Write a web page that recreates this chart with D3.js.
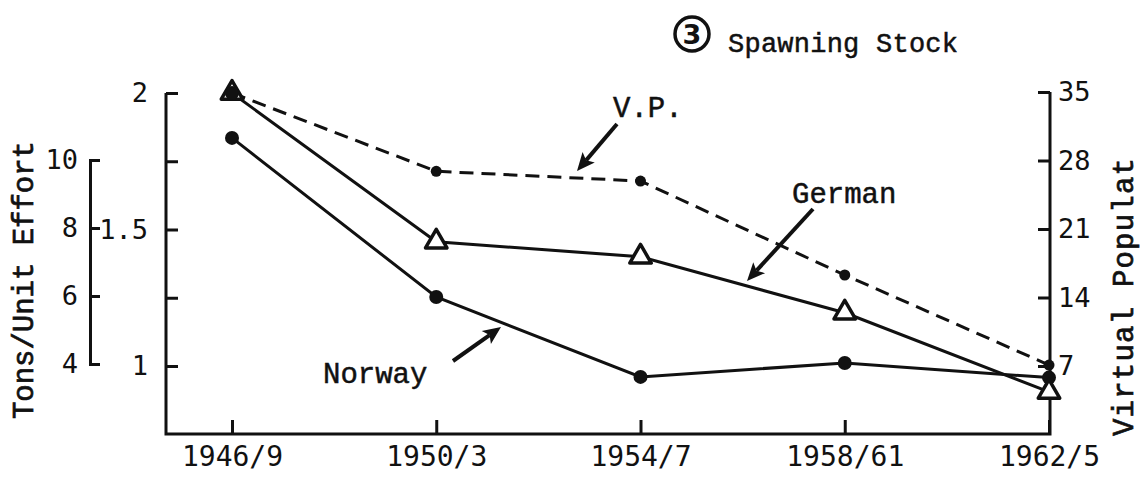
<!DOCTYPE html>
<html>
<head>
<meta charset="utf-8">
<script src="https://cdn.jsdelivr.net/npm/d3@7"></script>
<style>
  body { margin: 0; background: #fff; }
  text { fill: #111; }
</style>
</head>
<body>
<div id="chart"></div>
<script>
// chart data
var periods = ["1946/9", "1950/3", "1954/7", "1958/61", "1962/5"]
var german = [2.0, 1.455, 1.40, 1.195, 0.905]      // left scale (1 - 2)
var norway = [10.65, 5.97, 3.62, 4.03, 3.60]       // left scale (4 - 10)
var vp = [34.9, 26.9, 25.9, 16.3, 7.1]             // right scale, virtual population

var mainTicks = [1, 1.25, 1.5, 1.75, 2]
var mainLabels = ["1", "", "1.5", "", "2"]
var secTicks = [4, 6, 8, 10]
var rightTicks = [7, 14, 21, 28, 35]

var width = 1147,
    height = 479

var serif = "'Liberation Mono', 'Courier New', monospace"
var digits = "'DejaVu Sans Mono', monospace"
var ink = "#111"

var svg = d3.select("#chart")
  .append("svg")
    .attr("width", width)
    .attr("height", height)

var bottomY = 434
var leftX = 166
var rightX = 1050

var x = d3.scalePoint()
  .domain(periods)
  .range([232, 1049])

var yMain = d3.scaleLinear().domain([1, 2]).range([366, 93])
var ySec = d3.scaleLinear().domain([4, 10]).range([364, 160])
var yRight = d3.scaleLinear().domain([7, 35]).range([366, 92])

// frame lines (open box)
svg.append("path")
  .attr("d", "M" + leftX + "," + yMain(2) + "V" + bottomY + "H" + rightX + "V" + yRight(35))
  .attr("fill", "none")
  .attr("stroke", ink)
  .attr("stroke-width", 3)

// main left axis, ticks point inwards
var mainAxis = svg.append("g")
  .attr("transform", "translate(" + leftX + ",0)")
  .call(d3.axisLeft(yMain)
    .tickValues(mainTicks)
    .tickFormat(function(d, i) { return mainLabels[i] })
    .tickSize(-12)
    .tickPadding(18))
mainAxis.select(".domain").remove()

// second left scale
var secAxis = svg.append("g")
  .attr("transform", "translate(90,0)")
  .call(d3.axisLeft(ySec)
    .tickValues(secTicks)
    .tickFormat(d3.format("d"))
    .tickSize(-10)
    .tickPadding(12))

// right axis
var rightAxis = svg.append("g")
  .attr("transform", "translate(" + rightX + ",0)")
  .call(d3.axisRight(yRight)
    .tickValues(rightTicks)
    .tickFormat(d3.format("d"))
    .tickSize(-12)
    .tickPadding(8))
rightAxis.select(".domain").remove()

// bottom axis
var xAxis = svg.append("g")
  .attr("transform", "translate(0," + bottomY + ")")
  .call(d3.axisBottom(x)
    .tickSize(-14)
    .tickPadding(12))
xAxis.select(".domain").remove()

svg.selectAll(".tick line")
  .attr("stroke", ink)
  .attr("stroke-width", 3)
svg.selectAll(".domain")
  .attr("stroke", ink)
  .attr("stroke-width", 3)
svg.selectAll(".tick text")
  .style("font-family", digits)
  .style("font-size", "27px")
  .attr("fill", ink)
xAxis.selectAll(".tick text")
  .style("font-size", "28px")

// axis titles
svg.append("text")
  .attr("transform", "translate(33,280) rotate(-90)")
  .style("text-anchor", "middle")
  .style("font-family", serif)
  .style("font-size", "29px")
  .attr("stroke", ink)
  .attr("stroke-width", 0.7)
  .attr("textLength", 278)
  .text("Tons/Unit Effort")

svg.append("text")
  .attr("transform", "translate(1133,297) rotate(-90)")
  .style("text-anchor", "middle")
  .style("font-family", serif)
  .style("font-size", "29px")
  .attr("stroke", ink)
  .attr("stroke-width", 0.7)
  .attr("textLength", 278)
  .text("Virtual Populat")

// title
svg.append("circle")
  .attr("cx", 692)
  .attr("cy", 34)
  .attr("r", 17)
  .attr("fill", "none")
  .attr("stroke", ink)
  .attr("stroke-width", 3.5)
svg.append("text")
  .attr("x", 692)
  .attr("y", 44)
  .style("text-anchor", "middle")
  .style("font-family", "'DejaVu Sans', sans-serif")
  .style("font-weight", "bold")
  .style("font-size", "27px")
  .text("3")
svg.append("text")
  .attr("x", 728)
  .attr("y", 52)
  .style("font-family", serif)
  .style("font-size", "27px")
  .attr("stroke", ink)
  .attr("stroke-width", 0.5)
  .attr("textLength", 230)
  .text("Spawning Stock")

// lines
function series(vals, scale) {
  return vals.map(function(v, i) { return [x(periods[i]), scale(v)] })
}
var line = d3.line()

svg.append("path")
  .attr("d", line(series(vp, yRight)))
  .attr("fill", "none")
  .attr("stroke", ink)
  .attr("stroke-width", 3)
  .attr("stroke-dasharray", "14,8")

svg.append("path")
  .attr("d", line(series(norway, ySec)))
  .attr("fill", "none")
  .attr("stroke", ink)
  .attr("stroke-width", 3)

svg.append("path")
  .attr("d", line(series(german, yMain)))
  .attr("fill", "none")
  .attr("stroke", ink)
  .attr("stroke-width", 3)

// markers
svg.selectAll("norwayDots")
  .data(series(norway, ySec))
  .enter()
  .append("circle")
    .attr("cx", function(d) { return d[0] })
    .attr("cy", function(d) { return d[1] })
    .attr("r", 7)
    .attr("fill", ink)

svg.selectAll("germanTri")
  .data(series(german, yMain))
  .enter()
  .append("path")
    .attr("d", d3.symbol().type(d3.symbolTriangle).size(200))
    .attr("transform", function(d) { return "translate(" + d[0] + "," + d[1] + ")" })
    .attr("fill", "#fff")
    .attr("stroke", ink)
    .attr("stroke-width", 3.5)
    .attr("stroke-linejoin", "round")

svg.selectAll("vpDots")
  .data(series(vp, yRight))
  .enter()
  .append("circle")
    .attr("cx", function(d) { return d[0] })
    .attr("cy", function(d) { return d[1] })
    .attr("r", function(d, i) { return i == 0 ? 7 : 5.5 })
    .attr("fill", ink)

// labels with arrows
var notes = [
  { text: "V.P.", tx: 613, ty: 117, from: [617, 124], to: [577, 171] },
  { text: "German", tx: 792, ty: 203, from: [813, 209], to: [747, 281] },
  { text: "Norway", tx: 323, ty: 383, from: [453, 361], to: [501, 327] }
]

notes.forEach(function(n) {
  var dx = n.to[0] - n.from[0], dy = n.to[1] - n.from[1]
  var len = Math.sqrt(dx * dx + dy * dy)
  var ux = dx / len, uy = dy / len
  var head = 18, half = 8
  var bx = n.to[0] - ux * head, by = n.to[1] - uy * head
  svg.append("line")
    .attr("x1", n.from[0]).attr("y1", n.from[1])
    .attr("x2", bx + ux * 4).attr("y2", by + uy * 4)
    .attr("stroke", ink)
    .attr("stroke-width", 4)
  svg.append("path")
    .attr("d", "M" + n.to[0] + "," + n.to[1] +
      "L" + (bx - uy * half) + "," + (by + ux * half) +
      "L" + (bx + ux * 4) + "," + (by + uy * 4) +
      "L" + (bx + uy * half) + "," + (by - ux * half) + "Z")
    .attr("fill", ink)
  svg.append("text")
    .attr("x", n.tx)
    .attr("y", n.ty)
    .style("font-family", serif)
    .style("font-size", "29px")
    .attr("stroke", ink)
    .attr("stroke-width", 0.5)
    .text(n.text)
})
</script>
</body>
</html>
